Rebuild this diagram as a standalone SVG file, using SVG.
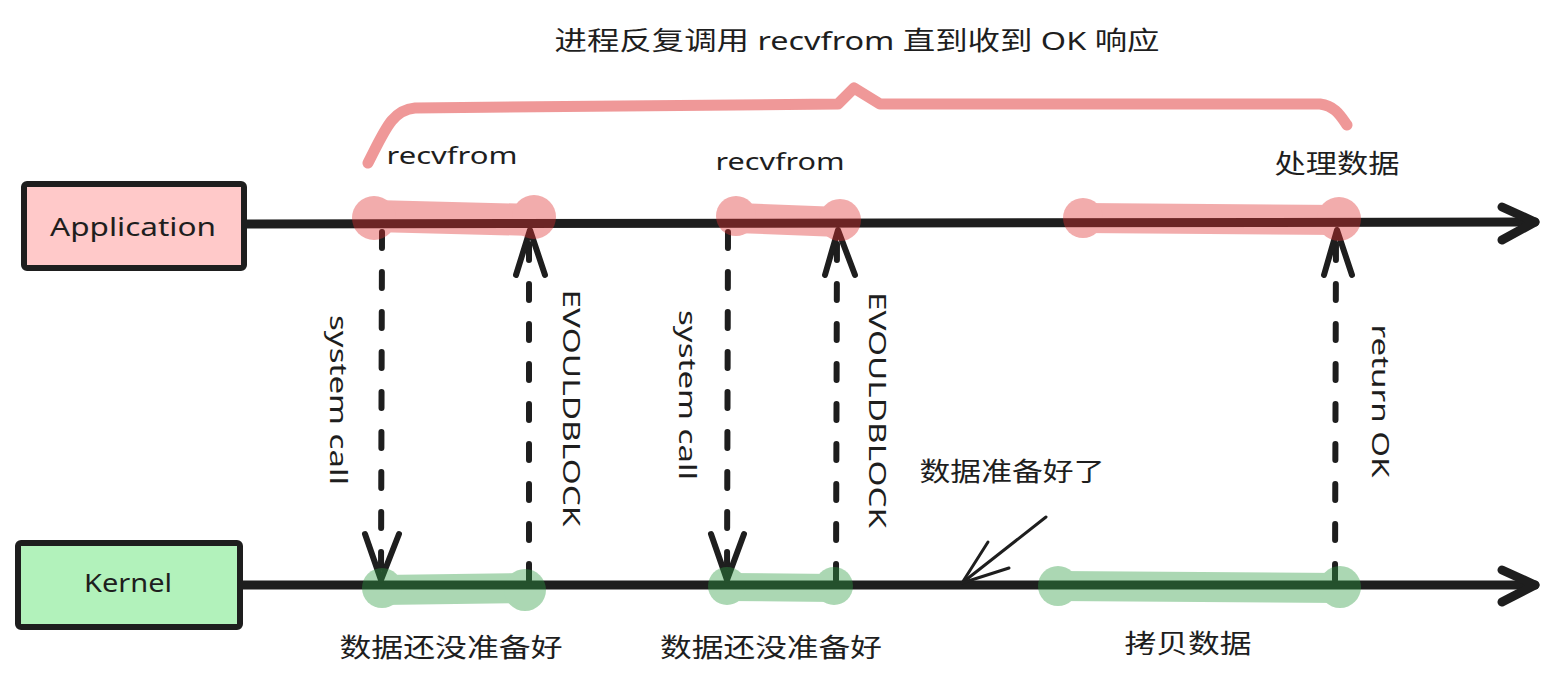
<svg xmlns="http://www.w3.org/2000/svg" width="1557" height="691" viewBox="0 0 1557 691">
<defs>
<style>
.t{font-family:"Noto Sans","Noto Sans CJK SC",sans-serif;fill:#1e1e1e;text-anchor:middle;dominant-baseline:central}
.box{stroke:#1e1e1e;stroke-width:6;stroke-linejoin:round}
.axis{fill:none;stroke:#1e1e1e;stroke-width:9;stroke-linecap:round;stroke-linejoin:round}
.dash{fill:none;stroke:#1e1e1e;stroke-width:6;stroke-linecap:round;stroke-dasharray:16 24}
.head{fill:none;stroke:#1e1e1e;stroke-width:6;stroke-linecap:round;stroke-linejoin:round}
.hlr{fill:none;stroke:#e03131;stroke-linecap:round}
.hlg{fill:none;stroke:#2f9e44;stroke-linecap:round}
</style>
</defs>
<rect width="1557" height="691" fill="#ffffff"/>

<g id="title">
<text class="t" x="857" y="40" font-size="26" textLength="605" lengthAdjust="spacingAndGlyphs">进程反复调用 recvfrom 直到收到 OK 响应</text>
</g>

<g id="brace">
<path d="M368 163 C 385 130, 392 110, 415 108 L 838 104 L 854 88 L 880 104 L 1320 104 C 1335 106, 1340 115, 1347 125" fill="none" stroke="#e03131" stroke-opacity="0.5" stroke-width="11" stroke-linecap="round" stroke-linejoin="round"/>
</g>

<g id="app-line">
<path class="axis" d="M244 224 L1535 222"/>
<path class="axis" d="M1502 207 L1535 222 L1502 240"/>
</g>
<g id="kernel-line">
<path class="axis" d="M240 585 L1535 585"/>
<path class="axis" d="M1502 570 L1535 585 L1502 602"/>
</g>

<g id="node-application">
<rect class="box" x="24" y="184" width="220" height="84" rx="3" fill="#ffc9c9"/>
<text class="t" x="133" y="226" font-size="26" textLength="166" lengthAdjust="spacingAndGlyphs">Application</text>
</g>
<g id="node-kernel">
<rect class="box" x="18" y="543" width="222" height="84" rx="3" fill="#b2f2bb"/>
<text class="t" x="128" y="582" font-size="26" textLength="88" lengthAdjust="spacingAndGlyphs">Kernel</text>
</g>

<g id="connectors">
<path class="dash" d="M382 232 L381 578"/>
<path class="head" d="M365 534 L381 580 L399 534"/>
<path class="dash" d="M529 580 L529 232"/>
<path class="head" d="M516 275 L530 230 L545 275"/>
<path class="dash" d="M728 232 L727 578"/>
<path class="head" d="M711 534 L727 580 L744 534"/>
<path class="dash" d="M836 580 L837 232"/>
<path class="head" d="M825 275 L838 230 L855 275"/>
<path class="dash" d="M1335 580 L1336 232"/>
<path class="head" d="M1324 275 L1337 230 L1352 275"/>
<path fill="none" stroke="#1e1e1e" stroke-width="3" stroke-linecap="round" stroke-linejoin="round" d="M1046 517 L962 583"/>
<path fill="none" stroke="#1e1e1e" stroke-width="3" stroke-linecap="round" stroke-linejoin="round" d="M988 542 L962 583 L1009 568"/>
</g>

<g id="highlights-app" opacity="0.4">
<path class="hlr" stroke-width="32" d="M374 216 L534 220"/>
<circle cx="374" cy="218" r="22" fill="#e03131"/>
<circle cx="534" cy="217" r="22" fill="#e03131"/>
<path class="hlr" stroke-width="30" d="M736 218 L840 222"/>
<circle cx="736" cy="216" r="20" fill="#e03131"/>
<circle cx="840" cy="220" r="21" fill="#e03131"/>
<path class="hlr" stroke-width="30" d="M1083 218 L1340 220"/>
<circle cx="1083" cy="218" r="20" fill="#e03131"/>
<circle cx="1339" cy="219" r="22" fill="#e03131"/>
</g>
<g id="highlights-kernel" opacity="0.4">
<path class="hlg" stroke-width="30" d="M382 590 L525 588"/>
<circle cx="382" cy="588" r="20" fill="#2f9e44"/>
<circle cx="525" cy="590" r="21" fill="#2f9e44"/>
<path class="hlg" stroke-width="28" d="M727 587 L834 588"/>
<circle cx="727" cy="586" r="19" fill="#2f9e44"/>
<circle cx="834" cy="586" r="19" fill="#2f9e44"/>
<path class="hlg" stroke-width="30" d="M1058 586 L1340 588"/>
<circle cx="1058" cy="586" r="20" fill="#2f9e44"/>
<circle cx="1340" cy="587" r="21" fill="#2f9e44"/>
</g>

<g id="labels">
<text class="t" x="452" y="154" font-size="24" textLength="131" lengthAdjust="spacingAndGlyphs">recvfrom</text>
<text class="t" x="780" y="160" font-size="24" textLength="129" lengthAdjust="spacingAndGlyphs">recvfrom</text>
<text class="t" x="1337" y="163" font-size="26" textLength="125" lengthAdjust="spacingAndGlyphs">处理数据</text>
<text class="t" x="451" y="647" font-size="26" textLength="223" lengthAdjust="spacingAndGlyphs">数据还没准备好</text>
<text class="t" x="771" y="647" font-size="26" textLength="222" lengthAdjust="spacingAndGlyphs">数据还没准备好</text>
<text class="t" x="1188" y="643" font-size="26" textLength="127" lengthAdjust="spacingAndGlyphs">拷贝数据</text>
<text class="t" x="1012" y="471" font-size="26" textLength="185" lengthAdjust="spacingAndGlyphs">数据准备好了</text>
<text class="t" font-size="24" textLength="170" lengthAdjust="spacingAndGlyphs" transform="translate(339 400) rotate(90)">system call</text>
<text class="t" font-size="24" textLength="237" lengthAdjust="spacingAndGlyphs" transform="translate(572 408) rotate(90)">EVOULDBLOCK</text>
<text class="t" font-size="24" textLength="170" lengthAdjust="spacingAndGlyphs" transform="translate(688 395) rotate(90)">system call</text>
<text class="t" font-size="24" textLength="236" lengthAdjust="spacingAndGlyphs" transform="translate(878 410) rotate(90)">EVOULDBLOCK</text>
<text class="t" font-size="24" textLength="153" lengthAdjust="spacingAndGlyphs" transform="translate(1381 401) rotate(90)">return OK</text>
</g>
</svg>
